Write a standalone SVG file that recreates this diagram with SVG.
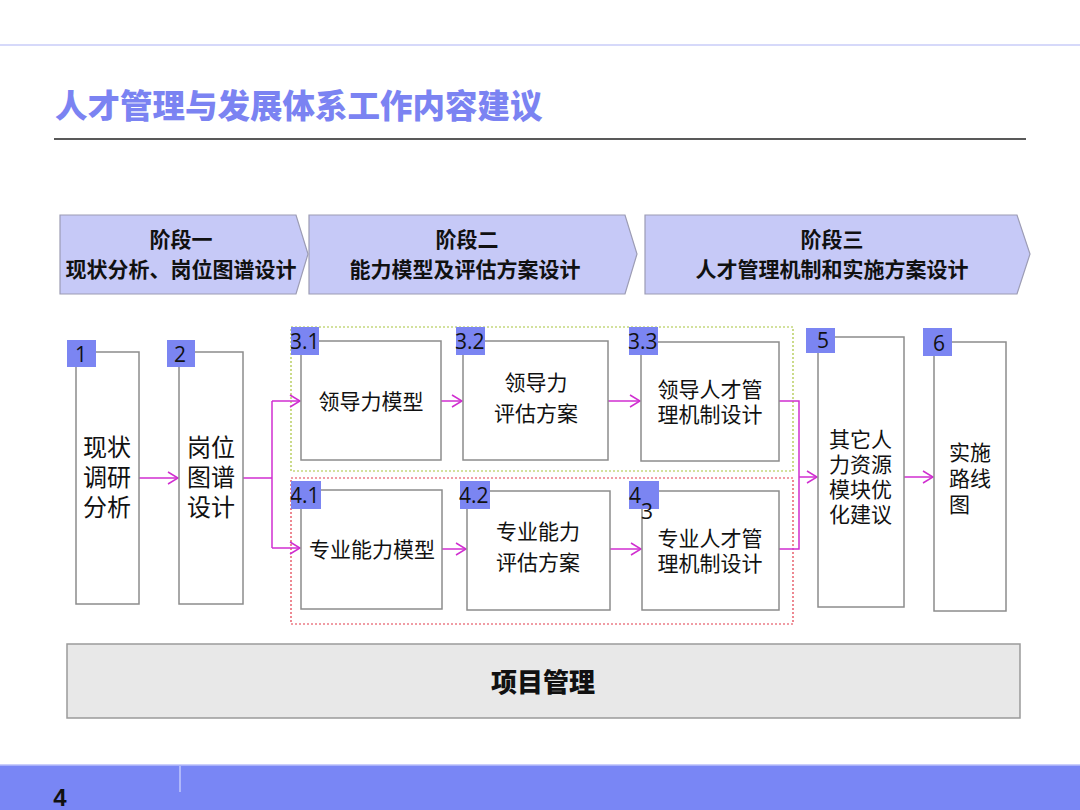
<svg xmlns="http://www.w3.org/2000/svg" width="1080" height="810" viewBox="0 0 1080 810">
<defs>
<marker id="arr" markerWidth="12" markerHeight="14" refX="11" refY="7" orient="auto" markerUnits="userSpaceOnUse">
<path d="M1,1 L11,7 L1,13" fill="none" stroke="#d02ed0" stroke-width="1.5"/>
</marker>
<style>
.cn{font-family:"Liberation Sans","Noto Sans CJK SC",sans-serif;}
.stage{fill:#c6c9f7;stroke:#9c9cb4;stroke-width:1.2;}
.sth{font-family:"Liberation Sans","Noto Sans CJK SC",sans-serif;font-weight:bold;font-size:21px;fill:#111;text-anchor:middle;}
.box{fill:#fff;stroke:#8c8c8c;stroke-width:1.5;}
.badge{fill:#7b85f2;}
.bt{font-family:"Open Sans","Liberation Sans",sans-serif;font-size:21px;fill:#111;}
.t24{font-family:"Liberation Sans","Noto Sans CJK SC",sans-serif;font-size:24px;fill:#111;}
.t21{font-family:"Liberation Sans","Noto Sans CJK SC",sans-serif;font-size:21px;fill:#111;}
.mid{text-anchor:middle;}
.con{fill:none;stroke:#d02ed0;stroke-width:1.5;}
</style>
</defs>
<rect x="0" y="0" width="1080" height="810" fill="#ffffff"/>
<line x1="0" y1="45" x2="1080" y2="45" stroke="#d6d9fa" stroke-width="2"/>
<text x="55" y="118" class="cn" font-size="32.5" font-weight="900" fill="#7b83f2">人才管理与发展体系工作内容建议</text>
<line x1="54" y1="139" x2="1026" y2="139" stroke="#222" stroke-width="1.5"/>

<g id="stage1">
<polygon class="stage" points="60,215 296,215 308,254 296,294 60,294"/>
<text class="sth" x="181" y="247">阶段一</text>
<text class="sth" x="181" y="277">现状分析、岗位图谱设计</text>
</g>
<g id="stage2">
<polygon class="stage" points="309,215 625,215 637,254 625,294 309,294"/>
<text class="sth" x="467" y="247">阶段二</text>
<text class="sth" x="465" y="277">能力模型及评估方案设计</text>
</g>
<g id="stage3">
<polygon class="stage" points="645,215 1017,215 1030,254 1017,294 645,294"/>
<text class="sth" x="832" y="247">阶段三</text>
<text class="sth" x="832" y="277">人才管理机制和实施方案设计</text>
</g>

<g id="group3">
<rect x="291" y="327" width="502" height="144" fill="none" stroke="#a8c43c" stroke-width="1.2" stroke-dasharray="2,2"/>
</g>
<g id="group4">
<rect x="291" y="478" width="502" height="146" fill="none" stroke="#e23a4a" stroke-width="1.2" stroke-dasharray="2,2"/>
</g>

<g id="connectors">
<line class="con" x1="139" y1="478" x2="178" y2="478" marker-end="url(#arr)"/>
<polyline class="con" points="243,478 272,478"/>
<polyline class="con" points="272,401 272,548"/>
<line class="con" x1="272" y1="401" x2="300" y2="401" marker-end="url(#arr)"/>
<line class="con" x1="272" y1="548" x2="300" y2="548" marker-end="url(#arr)"/>
<line class="con" x1="441" y1="401" x2="462" y2="401" marker-end="url(#arr)"/>
<line class="con" x1="608" y1="401" x2="640" y2="401" marker-end="url(#arr)"/>
<line class="con" x1="442" y1="549" x2="466" y2="549" marker-end="url(#arr)"/>
<line class="con" x1="610" y1="549" x2="641" y2="549" marker-end="url(#arr)"/>
<polyline class="con" points="779,401 799,401 799,549 779,549"/>
<line class="con" x1="799" y1="477" x2="817" y2="477" marker-end="url(#arr)"/>
<line class="con" x1="904" y1="477" x2="933" y2="477" marker-end="url(#arr)"/>
</g>

<g id="n1">
<rect class="box" x="76" y="352" width="63" height="252"/>
<rect class="badge" x="67" y="340" width="29" height="27"/>
<text class="bt" x="75" y="362">1</text>
<text class="t24" x="83" y="456">现状</text>
<text class="t24" x="83" y="486">调研</text>
<text class="t24" x="83" y="516">分析</text>
</g>
<g id="n2">
<rect class="box" x="179" y="352" width="64" height="252"/>
<rect class="badge" x="167" y="340" width="28" height="27"/>
<text class="bt" x="174" y="362">2</text>
<text class="t24" x="187" y="456">岗位</text>
<text class="t24" x="187" y="486">图谱</text>
<text class="t24" x="187" y="516">设计</text>
</g>
<g id="n31">
<rect class="box" x="301" y="341" width="140" height="119"/>
<rect class="badge" x="291" y="327" width="28" height="28"/>
<text class="bt" x="290" y="349">3.1</text>
<text class="t21 mid" x="371" y="409">领导力模型</text>
</g>
<g id="n32">
<rect class="box" x="463" y="341" width="145" height="119"/>
<rect class="badge" x="456" y="327" width="29" height="28"/>
<text class="bt" x="455" y="349">3.2</text>
<text class="t21 mid" x="536" y="390">领导力</text>
<text class="t21 mid" x="536" y="421">评估方案</text>
</g>
<g id="n33">
<rect class="box" x="641" y="342" width="138" height="119"/>
<rect class="badge" x="629" y="327" width="29" height="28"/>
<text class="bt" x="628" y="349">3.3</text>
<text class="t21 mid" x="710" y="397">领导人才管</text>
<text class="t21 mid" x="710" y="422">理机制设计</text>
</g>
<g id="n41">
<rect class="box" x="301" y="490" width="141" height="119"/>
<rect class="badge" x="291" y="481" width="30" height="28"/>
<text class="bt" x="290" y="503">4.1</text>
<text class="t21 mid" x="372" y="557">专业能力模型</text>
</g>
<g id="n42">
<rect class="box" x="467" y="491" width="143" height="119"/>
<rect class="badge" x="460" y="481" width="30" height="28"/>
<text class="bt" x="459" y="503">4.2</text>
<text class="t21 mid" x="538" y="539">专业能力</text>
<text class="t21 mid" x="538" y="570">评估方案</text>
</g>
<g id="n43">
<rect class="box" x="642" y="491" width="137" height="119"/>
<rect class="badge" x="629" y="481" width="30" height="28"/>
<text class="bt" x="629" y="503">4</text>
<text class="bt" x="641" y="519">3</text>
<text class="t21 mid" x="710" y="546">专业人才管</text>
<text class="t21 mid" x="710" y="571">理机制设计</text>
</g>
<g id="n5">
<rect class="box" x="818" y="337" width="86" height="270"/>
<rect class="badge" x="806" y="328" width="29" height="25"/>
<text class="bt" x="817" y="348">5</text>
<text class="t21" x="829" y="447">其它人</text>
<text class="t21" x="829" y="472">力资源</text>
<text class="t21" x="829" y="497">模块优</text>
<text class="t21" x="829" y="522">化建议</text>
</g>
<g id="n6">
<rect class="box" x="934" y="342" width="72" height="269"/>
<rect class="badge" x="923" y="328" width="29" height="28"/>
<text class="bt" x="933" y="351">6</text>
<text class="t21" x="949" y="460">实施</text>
<text class="t21" x="949" y="486">路线</text>
<text class="t21" x="949" y="512">图</text>
</g>

<g id="pm">
<rect x="67" y="644" width="953" height="74" fill="#e8e8e8" stroke="#9a9a9a" stroke-width="1.5"/>
<text class="cn mid" x="543" y="692" font-size="26" font-weight="900" fill="#111">项目管理</text>
</g>

<g id="footer">
<rect x="0" y="765" width="1080" height="45" fill="#7986f5"/>
<line x1="0" y1="765" x2="1080" y2="765" stroke="#b8befa" stroke-width="1.5"/>
<line x1="180" y1="766" x2="180" y2="792" stroke="#e6e8ff" stroke-width="1"/>
<text x="60" y="806" font-family="Liberation Sans, sans-serif" font-size="24" font-weight="bold" fill="#111" text-anchor="middle">4</text>
</g>
</svg>
